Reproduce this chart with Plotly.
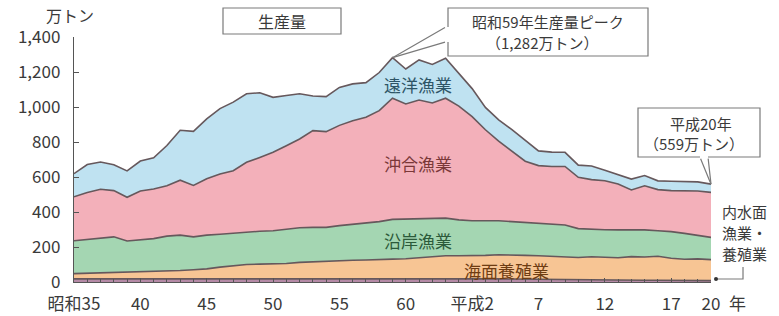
import plotly.graph_objects as go

years = list(range(1960, 2009))

# 万トン
inland = [18, 18, 19, 19, 19, 19, 20, 20, 20, 20,
          20, 21, 21, 22, 22, 22, 22, 22, 22, 22,
          22, 22, 22, 21, 21, 21, 21, 20, 20, 20,
          20, 19, 18, 17, 16, 15, 14, 14, 13, 13,
          12, 11, 11, 10, 10, 9, 9, 8, 8]
aquaculture = [30, 32, 33, 35, 36, 39, 40, 43, 46, 50,
               55, 64, 72, 78, 80, 81, 84, 90, 94, 98,
               100, 102, 104, 109, 110, 112, 119, 125, 130, 130,
               130, 133, 138, 135, 136, 135, 134, 132, 127, 131,
               129, 128, 134, 133, 137, 127, 121, 124, 120]
coastal = [188, 193, 198, 204, 179, 182, 188, 199, 202, 188,
           193, 188, 187, 185, 188, 190, 194, 198, 196, 192,
           200, 206, 212, 215, 227, 227, 220, 215, 215, 205,
           200, 198, 194, 193, 188, 187, 185, 180, 165, 156,
           158, 159, 154, 155, 146, 152, 148, 136, 127]
offshore = [251, 269, 280, 264, 250, 280, 283, 288, 314, 294,
            322, 344, 356, 399, 422, 448, 479, 507, 553, 547,
            573, 592, 603, 634, 692, 657, 680, 663, 685, 650,
            595, 520, 455, 400, 350, 328, 327, 334, 293, 285,
            280, 262, 227, 252, 235, 234, 244, 252, 257]
distant = [132, 159, 156, 148, 151, 171, 179, 230, 285, 309,
           342, 374, 392, 392, 369, 314, 287, 259, 198, 200,
           217, 210, 198, 218, 232, 200, 229, 220, 229, 186,
           160, 128, 122, 126, 120, 84, 82, 81, 70, 78,
           59, 53, 62, 58, 50, 54, 52, 52, 47]

tick_years = [1960, 1965, 1970, 1975, 1980, 1985, 1990, 1995, 2000, 2005, 2008]
tick_text = ["昭和35", "40", "45", "50", "55", "60", "平成2", "7", "12", "17", "20"]
y_ticks = [0, 200, 400, 600, 800, 1000, 1200, 1400]

series = [
    ("内水面漁業・養殖業", inland, "#b58aa6"),
    ("海面養殖業", aquaculture, "#f7c594"),
    ("沿岸漁業", coastal, "#a4d6b2"),
    ("沖合漁業", offshore, "#f3b0ba"),
    ("遠洋漁業", distant, "#bfe2f1"),
]

FONT = "Noto Sans CJK JP"
W, H = 779, 316
L, R, T, B = 74, 68, 37, 34
PW, PH = W - L - R, H - T - B


def px(x):
    return (x - L) / PW


def py(y):
    return (H - B - y) / PH


fig = go.Figure()
for name, vals, col in series:
    fig.add_trace(go.Scatter(
        x=years, y=vals, name=name, stackgroup="one", mode="lines",
        line=dict(color="#66585c", width=1.6), fillcolor=col,
        hoverinfo="skip"))

totals = [sum(v) for v in zip(*[s[1] for s in series])]
peak_i = totals.index(max(totals))
peak_year, peak_val = years[peak_i], totals[peak_i]
last_year, last_val = years[-1], totals[-1]

ann = []
# area labels
for txt, xv, yv, col in [("遠洋漁業", 1985.9, 1126, "#2e5566"),
                         ("沖合漁業", 1985.9, 680, "#7a3838"),
                         ("沿岸漁業", 1985.9, 240, "#2c5a3a"),
                         ("海面養殖業", 1992.6, 68, "#6e3c12")]:
    ann.append(dict(x=xv, y=yv, xref="x", yref="y", text=txt, showarrow=False,
                    font=dict(family=FONT, size=17, color=col)))

gray = "#7a7a7a"
# callout tails
for ax, ay in [(54, -31), (54, -16)]:
    ann.append(dict(x=peak_year, y=peak_val, xref="x", yref="y", text="",
                    showarrow=True, arrowhead=0, arrowwidth=1.2, arrowcolor=gray,
                    ax=ax, ay=ay, standoff=0, startstandoff=0))
for ax, ay in [(-11, -27), (-3, -27)]:
    ann.append(dict(x=last_year, y=last_val, xref="x", yref="y", text="",
                    showarrow=True, arrowhead=0, arrowwidth=1.2, arrowcolor=gray,
                    ax=ax, ay=ay, standoff=0, startstandoff=0))

txtc = "#3a3a3a"
def ptext(t, x, y, size=16):
    ann.append(dict(x=px(x), y=py(y), xref="paper", yref="paper", text=t,
                    showarrow=False, xanchor="center", yanchor="middle",
                    borderpad=0,
                    font=dict(family=FONT, size=size, color=txtc)))

ptext("万トン", 70, 15, 16)
ptext("生産量", 282, 21)
ptext("昭和59年生産量ピーク", 548, 22, 15)
ptext("（1,282万トン）", 542, 42, 15)
ptext("平成20年", 701, 123, 15)
ptext("（559万トン）", 694, 143, 15)
ptext("内水面", 745, 211, 15)
ptext("漁業・", 745, 232, 15)
ptext("養殖業", 745, 253, 15)
ptext("年", 737, 302, 17)

shapes = []
def path(pts):
    d = "M " + " L ".join(f"{px(a):.5f},{py(b):.5f}" for a, b in pts)
    shapes.append(dict(type="path", path=d, xref="paper", yref="paper",
                       line=dict(color=gray, width=1.2)))

# 生産量 box
shapes.append(dict(type="rect", xref="paper", yref="paper",
                   x0=px(223), x1=px(341), y0=py(34), y1=py(8),
                   line=dict(color=gray, width=1.2)))
path([(448, 27), (448, 8), (648, 8), (648, 56), (448, 56), (448, 42)])
path([(700, 157), (638, 157), (638, 108), (760, 108), (760, 157), (708, 157)])
path([(716, 279), (743, 279), (743, 267)])
shapes.append(dict(type="circle", xref="paper", yref="paper",
                   x0=px(714), x1=px(718), y0=py(281), y1=py(277),
                   fillcolor="#333", line=dict(width=0)))

fig.update_layout(
    width=W, height=H, margin=dict(l=L, r=R, t=T, b=B),
    paper_bgcolor="white", plot_bgcolor="white", showlegend=False,
    font=dict(family=FONT, size=17, color=txtc),
    annotations=ann, shapes=shapes,
    xaxis=dict(range=[1960, 2008], tickmode="array", tickvals=tick_years,
               ticktext=tick_text, showgrid=False, zeroline=False,
               showline=True, linecolor="#555", linewidth=1.2,
               ticks="inside", ticklen=4, tickcolor="#555",
               minor=dict(dtick=1, tick0=1960, ticks="inside", ticklen=3,
                          tickcolor="#555", showgrid=False),
               tickfont=dict(family=FONT, size=17, color=txtc),
               ticklabelstandoff=6, automargin=False),
    yaxis=dict(range=[0, 1400], tickmode="array", tickvals=y_ticks,
               tickformat=",", showgrid=False, zeroline=False,
               showline=True, linecolor="#555", linewidth=1.2,
               ticks="inside", ticklen=5, tickcolor="#555",
               tickfont=dict(family=FONT, size=17, color=txtc),
               ticklabelstandoff=9, automargin=False),
)

fig.write_html("out.html",
               config={"displayModeBar": False, "staticPlot": True},
               post_script="document.body.style.margin='0';"
                           "document.body.style.overflow='hidden';")
